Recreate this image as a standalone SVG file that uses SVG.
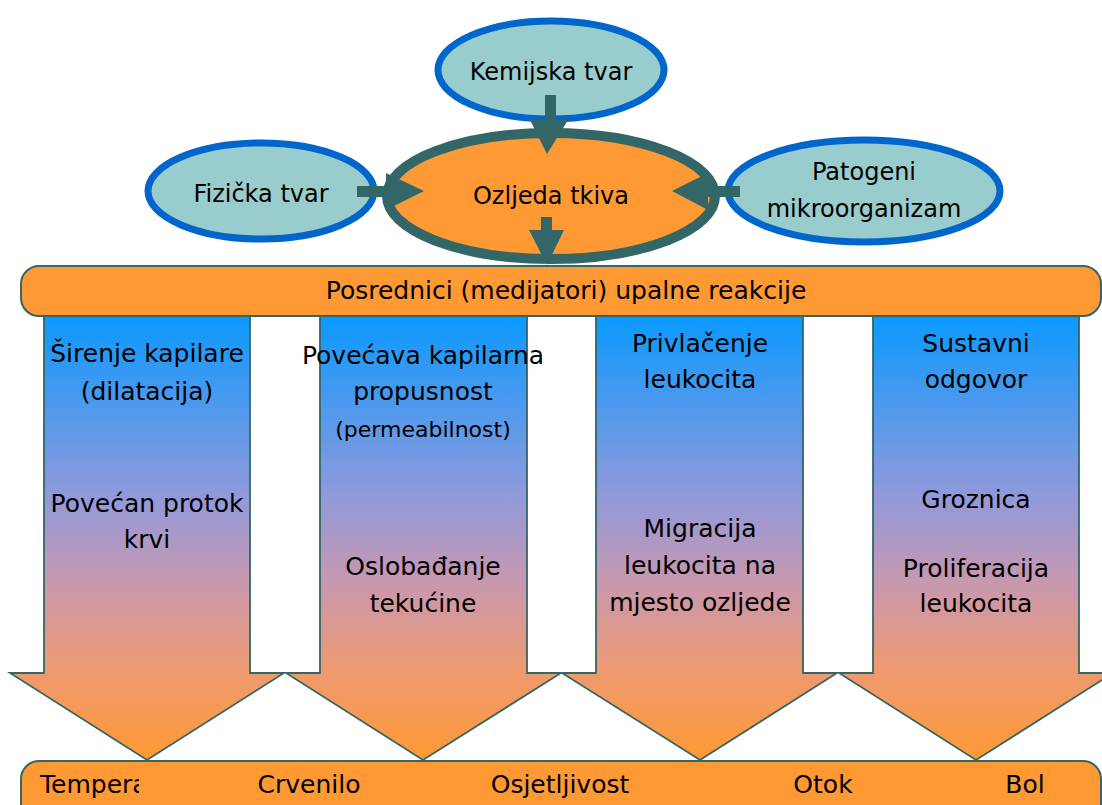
<svg xmlns="http://www.w3.org/2000/svg" width="1102" height="805" viewBox="0 0 1102 805">
<defs>
<linearGradient id="colGrad" x1="0" y1="0" x2="0" y2="1">
<stop offset="0" stop-color="#0a99ff"/>
<stop offset="0.4" stop-color="#8f99dc"/>
<stop offset="0.6" stop-color="#c898b0"/>
<stop offset="0.8" stop-color="#ee9a70"/>
<stop offset="1" stop-color="#ff9933"/>
</linearGradient>
<clipPath id="clipTemp"><rect x="22" y="760" width="117" height="45"/></clipPath>
</defs>
<style>
.src{fill:#99cccc;stroke:#0066cc;stroke-width:7}
.core{fill:#ff9933;stroke:#336666;stroke-width:10}
.bar{fill:#ff9933;stroke:#336666;stroke-width:2}
.col{fill:url(#colGrad);stroke:#336666;stroke-width:1.8}
.conn{fill:#336666;stroke:none}
text{font-family:"DejaVu Sans","Liberation Sans",sans-serif;font-size:25px;fill:#000;text-anchor:middle}
.el{font-size:24px}
.sm{font-size:22px}
.left{text-anchor:start}
</style>
<rect width="1102" height="805" fill="#ffffff"/>

<g id="col1">
<path class="col" d="M44,315 H250 V673 H284 L147,760 L10,673 H44 Z"/>
<text x="147" y="362">Širenje kapilare</text>
<text x="147" y="400">(dilatacija)</text>
<text x="147" y="512">Povećan protok</text>
<text x="147" y="548">krvi</text>
</g>
<g id="col2">
<path class="col" d="M320,315 H527 V673 H561 L423,760 L286,673 H320 Z"/>
<text x="423" y="364">Povećava kapilarna</text>
<text x="423" y="400">propusnost</text>
<text class="sm" x="423" y="437">(permeabilnost)</text>
<text x="423" y="575">Oslobađanje</text>
<text x="423" y="612">tekućine</text>
</g>
<g id="col3">
<path class="col" d="M596,315 H803 V673 H837 L700,760 L562,673 H596 Z"/>
<text x="700" y="352">Privlačenje</text>
<text x="700" y="388">leukocita</text>
<text x="700" y="537">Migracija</text>
<text x="700" y="574">leukocita na</text>
<text x="700" y="611">mjesto ozljede</text>
</g>
<g id="col4">
<path class="col" d="M873,315 H1079 V673 H1113 L976,760 L839,673 H873 Z"/>
<text x="976" y="352">Sustavni</text>
<text x="976" y="388">odgovor</text>
<text x="976" y="508">Groznica</text>
<text x="976" y="577">Proliferacija</text>
<text x="976" y="612">leukocita</text>
</g>

<g id="mediators">
<rect class="bar" x="21" y="266" width="1080" height="50" rx="18" ry="18"/>
<text x="566" y="299">Posrednici (medijatori) upalne reakcije</text>
</g>

<g id="outcomes">
<rect class="bar" x="21" y="761" width="1080" height="70" rx="18" ry="18"/>
<text class="left" x="40" y="793" clip-path="url(#clipTemp)">Temperatura</text>
<text x="309" y="793">Crvenilo</text>
<text x="560" y="793">Osjetljivost</text>
<text x="823" y="793">Otok</text>
<text x="1025" y="793">Bol</text>
</g>

<g id="kemijska">
<ellipse class="src" cx="551" cy="70" rx="113" ry="49"/>
<text class="el" x="551" y="80">Kemijska tvar</text>
</g>
<g id="fizicka">
<ellipse class="src" cx="261" cy="191" rx="113" ry="48"/>
<text class="el" x="261" y="202">Fizička tvar</text>
</g>
<g id="patogeni">
<ellipse class="src" cx="864" cy="191" rx="136" ry="51"/>
<text class="el" x="864" y="180">Patogeni</text>
<text class="el" x="864" y="217">mikroorganizam</text>
</g>
<g id="ozljeda">
<ellipse class="core" cx="551" cy="196" rx="164" ry="63"/>
<text class="el" x="551" y="204">Ozljeda tkiva</text>
</g>

<g id="connectors">
<path class="conn" d="M545,95 H556 V120 H568 L547,154 L530,120 H545 Z"/>
<path class="conn" d="M357,186 H386 V173 L424,191 L386,210 V197 H357 Z"/>
<path class="conn" d="M740,186 H708 V173 L672,191 L708,210 V197 H740 Z"/>
<path class="conn" d="M541,217 H552 V230 H564 L547,265 L529,230 H541 Z"/>
</g>
</svg>
